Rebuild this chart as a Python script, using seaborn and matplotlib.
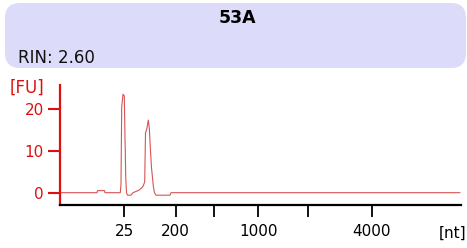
import matplotlib
matplotlib.use("Agg")
import matplotlib.pyplot as plt
import seaborn as sns
import pandas as pd
from matplotlib.patches import FancyBboxPatch
from matplotlib.transforms import IdentityTransform

# migration position (arbitrary units) and fluorescence [FU]
time = [0, 37, 37.5, 44.5, 45, 60.3, 61, 61.7, 63, 64.3, 65, 65.3, 65.7, 66.5,
        67.5, 71, 73, 76, 78, 80, 83, 84.7, 85.5, 87, 88.3, 89.3, 90.5, 91.5,
        93.3, 94.5, 96, 110, 111, 400]
fu = [0, 0, 0.5, 0.5, 0, 0, 2.0, 20.5, 23.6, 23.2, 13.0, 9.8, 4.0, 0,
      -0.6, -0.6, 0, 0.3, 0.5, 0.8, 1.5, 2.6, 14.3, 15.5, 17.4, 15.5, 10.0, 6.0,
      1.6, 0, -0.6, -0.6, 0, 0]

ladder_pos = [64.3, 115.7, 154, 198.3, 247.7, 311.7]
ladder_labels = ["25", "200", "", "1000", "", "4000"]
y_ticks = [0, 10, 20]

title = "53A"
rin_text = "RIN: 2.60"

sns.set_style("white")
plt.rcParams["font.family"] = ["DejaVu Sans"]

W, H = 467, 248
fig = plt.figure(figsize=(W / 100, H / 100), dpi=100)
ax = fig.add_axes([60 / W, 43 / H, (461 - 60) / W, 120 / H])

df = pd.DataFrame({"time": time, "FU": fu})
sns.lineplot(data=df, x="time", y="FU", ax=ax, color="#d85454", linewidth=0.8)

ax.set_xlim(0, 401)
ax.set_ylim(-2.95, 25.8)
ax.set_xlabel("")
ax.set_ylabel("")

ax.set_xticks(ladder_pos)
ax.set_xticklabels(ladder_labels)
ax.set_yticks(y_ticks)

for s in ["top", "right"]:
    ax.spines[s].set_visible(False)
ax.spines["left"].set_color("#e01010")
ax.spines["left"].set_linewidth(1.6)
ax.spines["bottom"].set_color("black")
ax.spines["bottom"].set_linewidth(1.6)

ax.tick_params(axis="y", direction="out", length=8.6, width=1.5, colors="#e01010",
               labelsize=11, pad=3, left=True)
ax.tick_params(axis="x", direction="out", length=8.6, width=1.3, colors="black",
               labelsize=11, pad=5, bottom=True)
for lab in ax.get_yticklabels():
    lab.set_color("#e01010")
ax.set_facecolor("white")

# header box
box = FancyBboxPatch((5 + 15, 180 + 15), 461 - 30, 65 - 30,
                     boxstyle="round,pad=15,rounding_size=15",
                     transform=IdentityTransform(), facecolor="#dcdcfa",
                     edgecolor="none", zorder=0)
fig.patches.append(box)
fig.text(237 / W, 1 - 18 / H, title, ha="center", va="center",
         fontsize=12.5, fontweight="bold", color="black")
fig.text(18 / W, 1 - 58 / H, rin_text, ha="left", va="center",
         fontsize=12, color="#111111")

fig.text(44 / W, 1 - 88 / H, "[FU]", ha="right", va="center",
         fontsize=12, color="#e01010")
fig.text(466 / W, 1 - 233 / H, "[nt]", ha="right", va="center",
         fontsize=11, color="black")

fig.savefig("out.png", dpi=100)
